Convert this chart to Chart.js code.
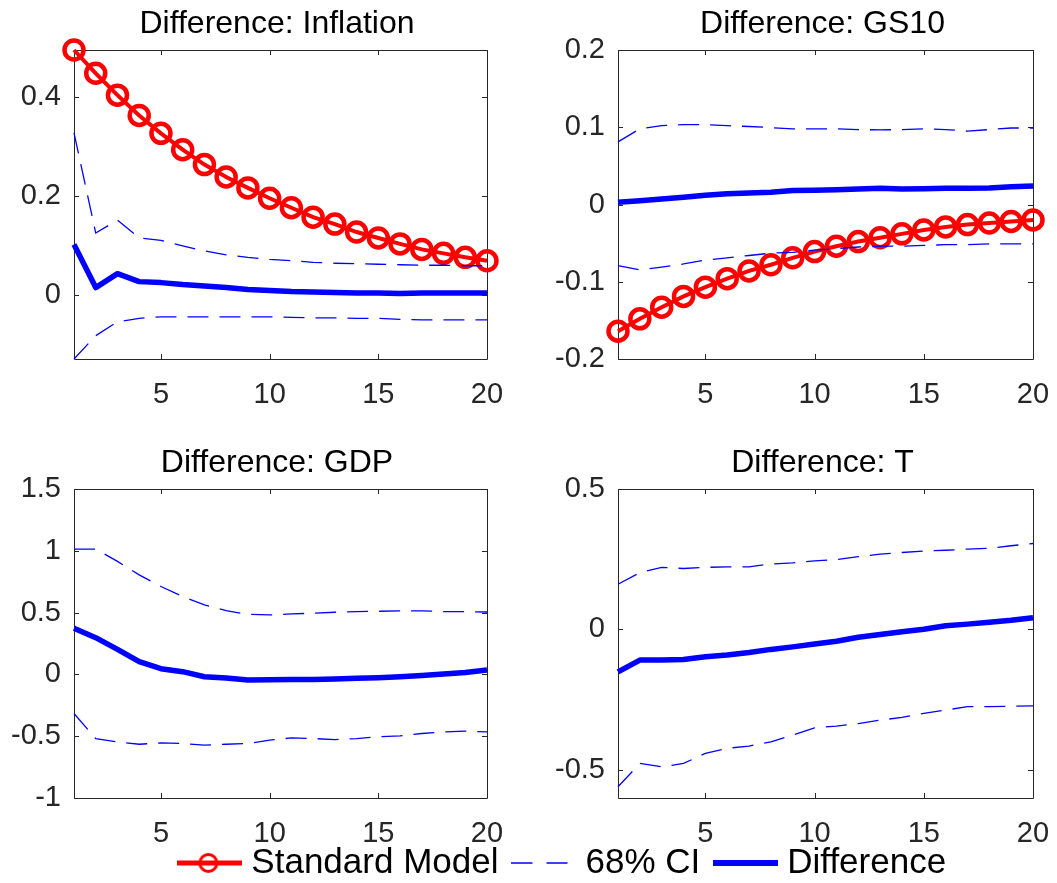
<!DOCTYPE html>
<html>
<head>
<meta charset="utf-8">
<title>Difference charts</title>
<script src="https://cdn.jsdelivr.net/npm/chart.js@4.4.1/dist/chart.umd.min.js"></script>
<style>
  html, body { margin: 0; padding: 0; background: #fff; }
  #fig { position: relative; width: 1057px; height: 883px; overflow: hidden; background: #fff; }
  #fig canvas { position: absolute; }
</style>
</head>
<body>
<div id="fig">
  <canvas id="inflation-chart" width="554" height="419" style="left:0px;top:0px"></canvas>
  <canvas id="gs10-chart" width="565" height="419" style="left:540px;top:0px"></canvas>
  <canvas id="gdp-chart" width="554" height="419" style="left:0px;top:439px"></canvas>
  <canvas id="t-chart" width="565" height="419" style="left:540px;top:439px"></canvas>
  <canvas id="legend-chart" width="900" height="170" style="left:116px;top:824px"></canvas>
</div>
<script>
/* horizon (x axis) */
const periods = [1, 2, 3, 4, 5, 6, 7, 8, 9, 10, 11, 12, 13, 14, 15, 16, 17, 18, 19, 20];
const xTicks = [5, 10, 15, 20];

/* Difference: Inflation */
const inflStandard = [0.494, 0.447, 0.403, 0.362, 0.326, 0.293, 0.263, 0.238, 0.216, 0.195,
                      0.176, 0.157, 0.143, 0.127, 0.115, 0.103, 0.092, 0.084, 0.076, 0.069];
const inflDiff = [0.102, 0.015, 0.043, 0.027, 0.025, 0.021, 0.018, 0.015, 0.011, 0.009,
                  0.007, 0.006, 0.005, 0.004, 0.004, 0.003, 0.004, 0.004, 0.004, 0.004];
const inflUpper = [0.327, 0.125, 0.151, 0.115, 0.110, 0.099, 0.089, 0.081, 0.076, 0.072,
                   0.069, 0.066, 0.064, 0.063, 0.062, 0.061, 0.060, 0.060, 0.059, 0.059];
const inflLower = [-0.129, -0.082, -0.054, -0.047, -0.044, -0.044, -0.044, -0.044, -0.044, -0.044,
                   -0.045, -0.046, -0.046, -0.047, -0.047, -0.049, -0.050, -0.050, -0.050, -0.050];
const inflTicks = [0, 0.2, 0.4];

/* Difference: GS10 */
const gs10Standard = [-0.164, -0.148, -0.133, -0.119, -0.107, -0.096, -0.086, -0.078, -0.069, -0.061,
                      -0.054, -0.048, -0.043, -0.038, -0.033, -0.029, -0.026, -0.024, -0.022, -0.020];
const gs10Diff = [0.003, 0.005, 0.007, 0.0095, 0.012, 0.014, 0.015, 0.016, 0.018, 0.0185,
                  0.019, 0.020, 0.021, 0.020, 0.0205, 0.021, 0.021, 0.0215, 0.023, 0.024];
const gs10Upper = [0.081, 0.098, 0.102, 0.1035, 0.1035, 0.102, 0.101, 0.0995, 0.098, 0.098,
                   0.098, 0.097, 0.0965, 0.097, 0.098, 0.097, 0.095, 0.097, 0.099, 0.099];
const gs10Lower = [-0.079, -0.0845, -0.081, -0.077, -0.072, -0.069, -0.066, -0.063, -0.062, -0.059,
                   -0.057, -0.055, -0.054, -0.054, -0.053, -0.052, -0.052, -0.051, -0.051, -0.051];
const gs10Ticks = [-0.2, -0.1, 0, 0.1, 0.2];

/* Difference: GDP */
const gdpDiff = [0.373, 0.297, 0.203, 0.103, 0.046, 0.022, -0.019, -0.030, -0.046, -0.043,
                 -0.041, -0.041, -0.038, -0.032, -0.027, -0.019, -0.008, 0.003, 0.016, 0.035];
const gdpUpper = [1.014, 1.014, 0.914, 0.805, 0.711, 0.630, 0.562, 0.516, 0.486, 0.481,
                  0.489, 0.495, 0.503, 0.508, 0.511, 0.514, 0.514, 0.508, 0.508, 0.505];
const gdpLower = [-0.316, -0.519, -0.546, -0.565, -0.554, -0.559, -0.573, -0.565, -0.559, -0.532,
                  -0.514, -0.519, -0.527, -0.519, -0.505, -0.497, -0.478, -0.465, -0.459, -0.465];
const gdpTicks = [-1, -0.5, 0, 0.5, 1, 1.5];

/* Difference: T */
const tDiff = [-0.151, -0.109, -0.109, -0.107, -0.097, -0.091, -0.082, -0.071, -0.062, -0.052,
               -0.042, -0.028, -0.018, -0.008, 0.001, 0.013, 0.019, 0.026, 0.033, 0.042];
const tUpper = [0.161, 0.202, 0.221, 0.217, 0.221, 0.223, 0.223, 0.233, 0.237, 0.244,
                0.249, 0.259, 0.268, 0.274, 0.279, 0.282, 0.286, 0.289, 0.298, 0.306];
const tLower = [-0.560, -0.477, -0.489, -0.477, -0.441, -0.423, -0.415, -0.400, -0.376, -0.350,
                -0.344, -0.335, -0.323, -0.313, -0.299, -0.287, -0.275, -0.275, -0.273, -0.272];
const tTicks = [-0.5, 0, 0.5];

const legendLabels = ["Standard Model", "68% CI", "Difference"];

const RED = "#ff0000";
const BLUE = "#0000ff";
const AXIS = "#262626";

Chart.defaults.font.family = '"Liberation Sans", Arial, Helvetica, sans-serif';

// matlab style box with the tick marks pointing inwards on all four sides
const matlabAxes = {
  id: "matlabAxes",
  beforeDatasetsDraw(chart) {
    const { ctx, chartArea: a, scales: { x, y } } = chart;
    const len = 5;
    ctx.save();
    ctx.strokeStyle = AXIS;
    ctx.lineWidth = 1;
    ctx.beginPath();
    ctx.rect(a.left + 0.5, a.top + 0.5, a.right - a.left, a.bottom - a.top);
    x.ticks.forEach(t => {
      const px = Math.round(x.getPixelForValue(t.value)) + 0.5;
      ctx.moveTo(px, a.bottom); ctx.lineTo(px, a.bottom - len);
      ctx.moveTo(px, a.top); ctx.lineTo(px, a.top + len);
    });
    y.ticks.forEach(t => {
      const py = Math.round(y.getPixelForValue(t.value)) + 0.5;
      ctx.moveTo(a.left, py); ctx.lineTo(a.left + len, py);
      ctx.moveTo(a.right, py); ctx.lineTo(a.right - len, py);
    });
    ctx.stroke();
    ctx.restore();
  }
};

function toPoints(values) {
  return periods.map((p, i) => ({ x: p, y: values[i] }));
}

function createPanel(id, title, standard, diff, upper, lower, yTicks, yMin, yMax, leftW, rightW) {
  const canvas = document.querySelector(id);
  // first dataset is drawn on top, so the red line goes last
  const datasets = [
    { label: "Difference", data: toPoints(diff), borderColor: BLUE, borderWidth: 5.5,
      pointRadius: 0, borderJoinStyle: "round", clip: false },
    { label: "68% CI", data: toPoints(upper), borderColor: BLUE, borderWidth: 1.3,
      borderDash: [21, 11], pointRadius: 0, clip: false },
    { label: "68% CI", data: toPoints(lower), borderColor: BLUE, borderWidth: 1.3,
      borderDash: [21, 11], pointRadius: 0, clip: false },
  ];
  if (standard) {
    datasets.push({
      label: "Standard Model", data: toPoints(standard), borderColor: RED, borderWidth: 4,
      pointStyle: "circle", pointRadius: 9.5, pointBorderWidth: 4.5, pointBorderColor: RED,
      pointBackgroundColor: "rgba(0,0,0,0)", clip: false
    });
  }
  let options = {
    type: "line",
    data: { datasets: datasets },
    options: {
      responsive: false,
      animation: false,
      events: [],
      layout: { padding: 0 },
      scales: {
        x: {
          type: "linear", min: 1, max: 20,
          grid: { display: false, drawTicks: false }, border: { display: false },
          ticks: { font: { size: 29 }, color: AXIS, padding: 19, maxRotation: 0,
                   autoSkip: false, callback: v => String(v) },
          afterBuildTicks: s => { s.ticks = xTicks.map(v => ({ value: v })); },
          afterFit: s => { s.height = 60; }
        },
        y: {
          type: "linear", min: yMin, max: yMax,
          grid: { display: false, drawTicks: false }, border: { display: false },
          ticks: { font: { size: 29 }, color: AXIS, padding: 13, autoSkip: false,
                   callback: v => String(v) },
          afterBuildTicks: s => { s.ticks = yTicks.map(v => ({ value: v })); },
          afterFit: s => { s.width = leftW; }
        },
        // empty axis on the right, only keeps the title centred over the box
        pad: {
          type: "linear", position: "right", min: 0, max: 1,
          grid: { display: false, drawTicks: false }, border: { display: false },
          ticks: { display: false },
          afterFit: s => { s.width = rightW; }
        }
      },
      plugins: {
        title: {
          display: true, text: title, color: "#000",
          font: { size: 32, weight: "normal", lineHeight: 1 },
          padding: { top: 8, bottom: 10 }
        },
        legend: { display: false },
        tooltip: { enabled: false }
      }
    },
    plugins: [matlabAxes]
  };
  return new Chart(canvas.getContext("2d"), options);
}

// axis tight on the inflation panel
const inflAll = inflStandard.concat(inflDiff, inflUpper, inflLower);

createPanel("#inflation-chart", "Difference: Inflation", inflStandard, inflDiff, inflUpper, inflLower,
            inflTicks, Math.min(...inflAll), Math.max(...inflAll), 74, 67);
createPanel("#gs10-chart", "Difference: GS10", gs10Standard, gs10Diff, gs10Upper, gs10Lower,
            gs10Ticks, -0.2, 0.2, 78, 72);
createPanel("#gdp-chart", "Difference: GDP", null, gdpDiff, gdpUpper, gdpLower,
            gdpTicks, -1, 1.5, 74, 67);
createPanel("#t-chart", "Difference: T", null, tDiff, tUpper, tLower,
            tTicks, -0.6, 0.5, 78, 72);

/* Shared legend */
function swatch(draw) {
  const c = document.createElement("canvas");
  c.width = 65;
  c.height = 26;
  draw(c.getContext("2d"));
  return c;
}
const swatches = [
  swatch(g => {
    g.strokeStyle = RED;
    g.lineWidth = 5;
    g.beginPath(); g.moveTo(0, 13); g.lineTo(65, 13); g.stroke();
    g.lineWidth = 3;
    g.beginPath(); g.arc(31, 13, 8.5, 0, 2 * Math.PI); g.stroke();
  }),
  swatch(g => {
    g.strokeStyle = BLUE;
    g.lineWidth = 1.3;
    g.setLineDash([21, 14]);
    g.beginPath(); g.moveTo(0, 13); g.lineTo(65, 13); g.stroke();
  }),
  swatch(g => {
    g.strokeStyle = BLUE;
    g.lineWidth = 6;
    g.beginPath(); g.moveTo(0, 13); g.lineTo(65, 13); g.stroke();
  })
];

function createLegend() {
  const canvas = document.querySelector("#legend-chart");
  let options = {
    type: "line",
    data: { datasets: [] },
    options: {
      responsive: false,
      animation: false,
      events: [],
      scales: { x: { display: false }, y: { display: false } },
      plugins: {
        legend: {
          display: true,
          position: "top",
          labels: {
            usePointStyle: true,
            pointStyleWidth: 48,
            padding: 21.5,
            color: "#000",
            font: { size: 35 },
            generateLabels: () => legendLabels.map((text, i) => ({
              text: text, pointStyle: swatches[i], fontColor: "#000",
              fillStyle: "rgba(0,0,0,0)", strokeStyle: "rgba(0,0,0,0)",
              lineWidth: 0, hidden: false, datasetIndex: i
            }))
          }
        },
        tooltip: { enabled: false }
      }
    }
  };
  return new Chart(canvas.getContext("2d"), options);
}
createLegend();
</script>
</body>
</html>
